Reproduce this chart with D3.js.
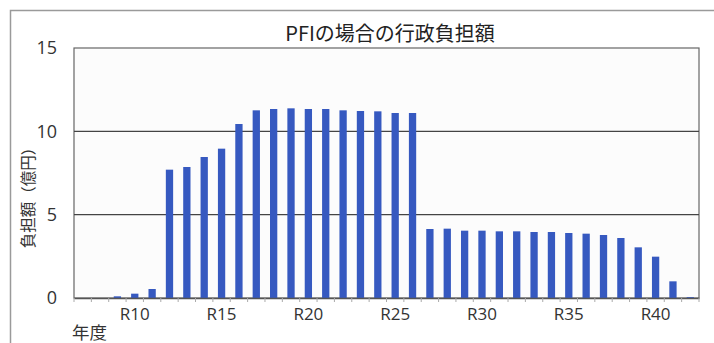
<!DOCTYPE html>
<html><head><meta charset="utf-8">
<script src="https://cdn.jsdelivr.net/npm/d3@7"></script>
<style>
html,body{margin:0;padding:0;background:#fff;}
svg{display:block;font-family:"Noto Sans CJK JP","Noto Sans",sans-serif;}
</style></head>
<body>
<script>
const categories = ["R7","R8","R9","R10","R11","R12","R13","R14","R15","R16","R17","R18","R19","R20","R21","R22","R23","R24","R25","R26","R27","R28","R29","R30","R31","R32","R33","R34","R35","R36","R37","R38","R39","R40","R41","R42"];
const values = [0,0,0.1,0.26,0.54,7.7,7.86,8.46,8.96,10.44,11.26,11.34,11.38,11.34,11.34,11.26,11.22,11.2,11.1,11.1,4.14,4.16,4.04,4.04,4.0,4.0,3.96,3.96,3.9,3.86,3.78,3.6,3.04,2.48,1.0,0.05];
const xTickLabels = ["R10","R15","R20","R25","R30","R35","R40"];
const yTicks = [0,5,10,15];
const title = "PFIの場合の行政負担額";
const yTitle = "負担額（億円）";
const xTitle = "年度";

const W = 714, H = 343;
const m = {left:74, right:15, top:48, bottom:45};
const svg = d3.select("body").append("svg").attr("width",W).attr("height",H);

svg.append("rect").attr("x",10.5).attr("y",10.5).attr("width",W).attr("height",H)
  .attr("fill","#fff").attr("stroke","#9a9a9a").attr("stroke-width",1.5);

const x = d3.scaleBand().domain(categories).range([m.left, W - m.right]).paddingInner(0.58).paddingOuter(0.29);
const y = d3.scaleLinear().domain([0,15]).range([H - m.bottom, m.top]);

// plot area
svg.append("rect").attr("x",m.left).attr("y",m.top)
  .attr("width",W - m.right - m.left).attr("height",H - m.bottom - m.top)
  .attr("fill","#fcfcfc").attr("stroke","#666").attr("stroke-width",1.2);

// gridlines
svg.append("g").selectAll("line").data(yTicks.filter(d=>d>0 && d<15)).join("line")
  .attr("x1",m.left).attr("x2",W - m.right)
  .attr("y1",d=>y(d)).attr("y2",d=>y(d))
  .attr("stroke","#444").attr("stroke-width",1.3);

// bars
svg.append("g").selectAll("rect").data(values).join("rect")
  .attr("x",(d,i)=>x(categories[i]))
  .attr("width",x.bandwidth())
  .attr("y",d=>y(d))
  .attr("height",d=>y(0)-y(d))
  .attr("fill","#3659c0");

// x axis
const xAxis = d3.axisBottom(x).tickSize(0).tickFormat(d=>xTickLabels.includes(d)?d:"");
const gx = svg.append("g").attr("transform",`translate(0,${y(0)})`).call(xAxis);
gx.select(".domain").attr("stroke","#555").attr("stroke-width",1.5);
gx.selectAll("text").attr("font-size",17).attr("fill","#333").attr("dy","1.1em")
  .attr("font-family","'Open Sans','Noto Sans',sans-serif");
// category boundary ticks
const bounds = d3.range(categories.length+1).map(i=>m.left + i*(W - m.right - m.left)/categories.length);
svg.append("g").selectAll("line").data(bounds).join("line")
  .attr("x1",d=>d).attr("x2",d=>d).attr("y1",y(0)).attr("y2",y(0)+4)
  .attr("stroke","#aaa").attr("stroke-width",1);

// y axis
const yAxis = d3.axisLeft(y).tickValues(yTicks).tickSize(0).tickPadding(17);
const gy = svg.append("g").attr("transform",`translate(${m.left},0)`).call(yAxis);
gy.select(".domain").remove();
gy.selectAll("text").attr("font-size",18).attr("fill","#333")
  .attr("font-family","'Open Sans','Noto Sans',sans-serif");

// titles
svg.append("text").attr("x",390).attr("y",41).attr("text-anchor","middle")
  .attr("font-size",20).attr("fill","#222").text(title);
svg.append("text").attr("transform",`translate(34,${194}) rotate(-90)`)
  .attr("text-anchor","middle").attr("font-size",15.5).attr("fill","#333").text(yTitle);
svg.append("text").attr("x",72).attr("y",339).attr("font-size",17.5).attr("fill","#333").text(xTitle);
</script>
</body></html>
